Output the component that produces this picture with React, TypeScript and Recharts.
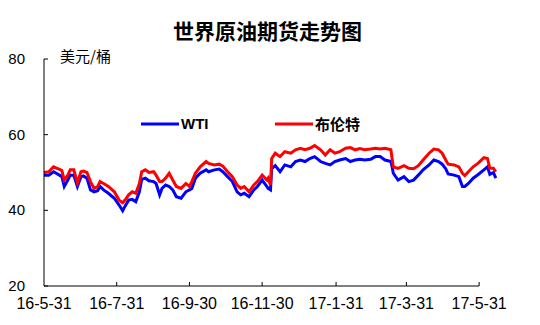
import React from 'react';
import { LineChart, Line, XAxis, YAxis, Legend, ReferenceLine } from 'recharts';

// days since 2016-05-31
const days = [
  0, 4, 8, 13, 15, 17, 20, 22, 25, 28, 31, 33, 36, 39, 42, 45, 47, 50, 54, 59, 63, 66, 68, 71, 74, 77, 80, 82, 85, 88, 92,
  94, 97, 99, 102, 105, 108, 111, 115, 119, 122, 124, 127, 131, 136, 138, 143, 147, 150, 154, 158, 162, 165, 168, 172, 176, 179, 183, 187,
  188, 190, 191, 194, 198, 202, 207, 211, 215, 219, 223, 227, 232, 236, 240, 244, 248, 253, 257, 261, 265, 269, 274, 278,
  282, 286, 291, 292, 293, 297, 302, 306, 310, 314, 318, 323, 327, 331, 334, 337, 339, 344, 348, 351, 353, 356, 360, 364, 369, 372, 374, 377, 379,
];

const wti = [
  49.3, 49.3, 50.2, 49.3, 48.9, 46.3, 48.0, 49.3, 49.3, 46.3, 48.9, 49.1, 48.5, 45.4, 44.9, 45.2, 46.3, 45.4, 44.5, 43.2, 41.4, 39.9, 41.1, 42.7, 42.9, 42.3, 44.9, 48.2, 48.5, 47.8, 47.6,
  47.1, 44.1, 45.8, 46.7, 46.3, 45.4, 43.6, 43.2, 44.9, 45.4, 45.8, 48.5, 49.8, 50.7, 50.2, 50.7, 50.9, 50.2, 48.9, 47.6, 44.9, 44.1, 44.5, 43.6, 45.4, 46.3, 48.0, 46.3,
  45.8, 45.4, 51.0, 51.8, 50.2, 52.0, 51.5, 52.9, 53.3, 52.9, 53.7, 54.2, 52.9, 52.4, 52.0, 52.9, 53.3, 53.7, 52.9, 53.3, 53.5, 53.3, 53.5, 54.2,
  54.2, 53.3, 52.9, 51.5, 49.8, 48.0, 48.9, 47.6, 48.0, 49.3, 50.7, 52.0, 53.3, 52.9, 52.2, 51.0, 49.6, 49.3, 48.9, 46.3, 46.3, 47.1, 48.5, 49.4, 50.7, 51.5, 49.5, 50.0, 48.5,
];

const brent = [
  50.0, 50.2, 51.5, 50.8, 50.5, 48.0, 49.3, 50.7, 50.7, 47.3, 50.2, 50.4, 50.0, 47.6, 45.8, 46.3, 47.6, 47.1, 46.3, 44.9, 42.7, 42.0, 42.7, 44.1, 44.9, 44.5, 47.1, 50.2, 50.7, 50.0, 50.2,
  49.3, 47.6, 47.6, 48.5, 49.8, 48.0, 46.3, 45.8, 47.1, 46.3, 47.6, 49.8, 51.5, 52.9, 52.4, 52.0, 52.2, 51.7, 50.2, 48.9, 46.7, 45.8, 46.3, 44.9, 46.7, 47.6, 49.3, 48.0,
  48.5, 46.7, 53.7, 55.1, 54.2, 55.5, 55.1, 56.0, 56.4, 56.0, 56.4, 57.1, 56.0, 54.6, 56.0, 55.1, 55.5, 56.4, 56.6, 56.0, 56.3, 56.0, 56.2, 56.4,
  56.2, 56.4, 56.0, 53.7, 51.5, 51.1, 51.8, 51.1, 51.0, 51.8, 53.3, 55.1, 56.2, 56.0, 55.1, 53.3, 52.2, 52.0, 51.5, 49.8, 49.2, 50.2, 51.5, 52.4, 53.9, 53.7, 51.1, 51.1, 50.2,
];

const xTicks = [0, 61, 122, 183, 245, 304, 365];
const xTickLabels = ['16-5-31', '16-7-31', '16-9-30', '16-11-30', '17-1-31', '17-3-31', '17-5-31'];
const yTicks = [20, 40, 60, 80];

const data = days.map((d, i) => ({ day: d, wti: wti[i], brent: brent[i] }));

const latin = '"Liberation Sans", Arial, sans-serif';
const cjk = '"Noto Sans CJK SC", sans-serif';

const XTick = (props: any) => {
  const { x, y, payload } = props;
  const idx = xTicks.indexOf(payload.value);
  return (
    <g>
      {payload.value !== 0 && <line x1={x} y1={y - 8} x2={x} y2={y - 12} stroke="#000" />}
      <text x={x} y={y + 15} textAnchor="middle" fontSize={16} fontFamily={latin} fill="#000">
        {xTickLabels[idx]}
      </text>
    </g>
  );
};

const YTick = (props: any) => {
  const { x, y, payload } = props;
  return (
    <g>
      <line x1={x + 8} y1={y} x2={x + 12} y2={y} stroke="#000" />
      <text x={x - 11} y={y + 5} textAnchor="end" fontSize={15} fontFamily={latin} fill="#000">
        {payload.value}
      </text>
    </g>
  );
};

const renderLegend = (props: any) => {
  const { payload } = props;
  return (
    <div style={{ display: 'flex' }}>
      {payload.map((p: any) => (
        <div key={p.value} style={{ display: 'flex', alignItems: 'center', width: 134 }}>
          <svg width={38} height={6}>
            <line x1={0} y1={3} x2={38} y2={3} stroke={p.color} strokeWidth={3} />
          </svg>
          <span style={{ fontSize: 15, fontWeight: 'bold', fontFamily: p.value === 'WTI' ? latin : cjk, marginLeft: 2, color: '#000' }}>
            {p.value}
          </span>
        </div>
      ))}
    </div>
  );
};

export default function App() {
  return (
    <div style={{ position: 'absolute', left: 0, top: 0, width: 540, height: 325, background: '#fff' }}>
      <div style={{ position: 'absolute', top: 15, left: 0, width: 535, textAlign: 'center', fontSize: 21, fontWeight: 'bold', fontFamily: cjk, lineHeight: '30px' }}>
        世界原油期货走势图
      </div>
      <div style={{ position: 'absolute', top: 45, left: 60, fontSize: 15, fontFamily: cjk, lineHeight: '21px' }}>
        美元/桶
      </div>
      <LineChart width={540} height={325} data={data} margin={{ top: 59, right: 43, left: 0, bottom: 0 }}>
        <XAxis
          dataKey="day"
          type="number"
          domain={[0, 380]}
          ticks={xTicks}
          interval={0}
          axisLine={false}
          tickLine={false}
          tick={<XTick />}
          height={39}
        />
        <YAxis
          domain={[20, 80]}
          ticks={yTicks}
          interval={0}
          width={44}
          axisLine={{ stroke: '#000' }}
          tickLine={false}
          tick={<YTick />}
        />
        <ReferenceLine segment={[{ x: 0, y: 20 }, { x: 365, y: 20 }]} stroke="#000" />
        <Legend
          content={renderLegend}
          verticalAlign="middle"
          wrapperStyle={{ position: 'absolute', top: 113, left: 141, width: 300 }}
        />
        <Line type="linear" dataKey="wti" name="WTI" stroke="#0000ff" strokeWidth={3} dot={false} isAnimationActive={false} />
        <Line type="linear" dataKey="brent" name="布伦特" stroke="#ff0000" strokeWidth={3} dot={false} isAnimationActive={false} />
      </LineChart>
    </div>
  );
}
